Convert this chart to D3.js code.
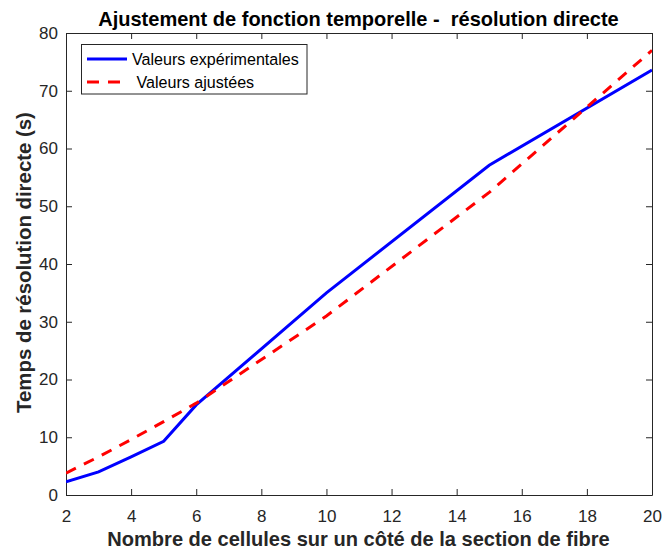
<!DOCTYPE html>
<html><head><meta charset="utf-8">
<script src="https://cdn.jsdelivr.net/npm/d3@7/dist/d3.min.js"></script>
<style>body{margin:0;background:#fff;} text{font-family:"Liberation Sans",Arial,sans-serif;}</style>
</head><body>
<svg id="c" width="662" height="555"></svg>
<script>
const xValues = [2, 3, 4, 5, 6, 10, 15, 20];
const experimental = [2.3, 4.0, 6.6, 9.3, 15.6, 35.0, 57.1, 73.6];
const fitted = [3.8, 6.6, 9.6, 12.7, 15.9, 31.0, 52.4, 77.0];
const xTicks = [2, 4, 6, 8, 10, 12, 14, 16, 18, 20];
const yTicks = [0, 10, 20, 30, 40, 50, 60, 70, 80];
const seriesNames = ["Valeurs expérimentales", " Valeurs ajustées"];
const title = "Ajustement de fonction temporelle -  résolution directe";
const xLabel = "Nombre de cellules sur un côté de la section de fibre";
const yLabel = "Temps de résolution directe (s)";

const L = 66, R = 652, T = 33, B = 495;
const svg = d3.select("#c");
const x = d3.scaleLinear().domain([2, 20]).range([L, R]);
const y = d3.scaleLinear().domain([0, 80]).range([B, T]);
const axisColor = "#262626";

function fitText(sel, target) {
  const len = sel.node().getComputedTextLength();
  const fs = parseFloat(sel.style("font-size"));
  sel.style("font-size", (fs * target / len) + "px");
}

function styleAxis(g) {
  g.select(".domain").attr("stroke", axisColor).attr("stroke-width", 1);
  g.selectAll(".tick line").attr("stroke", axisColor);
  g.selectAll(".tick text").attr("fill", axisColor).style("font-size", "17px")
    .style("font-family", "'Liberation Sans',Arial,sans-serif");
}
const gx = svg.append("g").attr("transform", `translate(0,${B})`)
  .call(d3.axisBottom(x).tickValues(xTicks).tickFormat(d3.format("d")).tickSizeInner(-6).tickSizeOuter(0).tickPadding(15));
styleAxis(gx);
const gxt = svg.append("g").attr("transform", `translate(0,${T})`)
  .call(d3.axisTop(x).tickValues(xTicks).tickFormat("").tickSizeInner(-6).tickSizeOuter(0));
styleAxis(gxt);
const gy = svg.append("g").attr("transform", `translate(${L},0)`)
  .call(d3.axisLeft(y).tickValues(yTicks).tickFormat(d3.format("d")).tickSizeInner(-6).tickSizeOuter(0).tickPadding(8));
styleAxis(gy);
const gyr = svg.append("g").attr("transform", `translate(${R},0)`)
  .call(d3.axisRight(y).tickValues(yTicks).tickFormat("").tickSizeInner(-6).tickSizeOuter(0));
styleAxis(gyr);

svg.append("clipPath").attr("id", "pc").append("rect")
  .attr("x", L).attr("y", T).attr("width", R - L).attr("height", B - T);

const line = d3.line().x((d, i) => x(xValues[i])).y(d => y(d));
svg.append("path").datum(experimental).attr("d", line).attr("fill", "none")
  .attr("stroke", "#0000ff").attr("stroke-width", 3).attr("clip-path", "url(#pc)");
svg.append("path").datum(fitted).attr("d", line).attr("fill", "none")
  .attr("stroke", "#ff0000").attr("stroke-width", 3).attr("stroke-dasharray", "11,9")
  .attr("clip-path", "url(#pc)");

// title & labels
const tt = svg.append("text").attr("x", 358.5).attr("y", 26).attr("text-anchor", "middle")
  .attr("fill", "#000").style("font-size", "16px").style("font-weight", "bold")
  .style("white-space", "pre").text(title);
fitText(tt, 521);
const xl = svg.append("text").attr("x", 358.5).attr("y", 546).attr("text-anchor", "middle")
  .attr("fill", axisColor).style("font-size", "16px").style("font-weight", "bold").text(xLabel);
fitText(xl, 503);
const yl = svg.append("text").attr("transform", `translate(31,262.5) rotate(-90)`).attr("text-anchor", "middle")
  .attr("fill", axisColor).style("font-size", "16px").style("font-weight", "bold").text(yLabel);
fitText(yl, 301);

// legend
const lg = svg.append("g");
lg.append("rect").attr("x", 81.5).attr("y", 44.5).attr("width", 225.5).attr("height", 49.5)
  .attr("fill", "#fff").attr("stroke", axisColor).attr("stroke-width", 1);
lg.append("line").attr("x1", 87).attr("x2", 127).attr("y1", 59).attr("y2", 59)
  .attr("stroke", "#0000ff").attr("stroke-width", 3);
lg.append("line").attr("x1", 87).attr("x2", 120).attr("y1", 82).attr("y2", 82)
  .attr("stroke", "#ff0000").attr("stroke-width", 3).attr("stroke-dasharray", "12,9");
const l1 = lg.append("text").attr("x", 132).attr("y", 65).attr("fill", "#000").style("font-size", "15px")
  .style("white-space", "pre").text(seriesNames[0]);
fitText(l1, 167);
lg.append("text").attr("x", 132).attr("y", 87.5).attr("fill", "#000").style("font-size", l1.style("font-size"))
  .style("white-space", "pre").text(seriesNames[1]);
</script>
</body></html>
